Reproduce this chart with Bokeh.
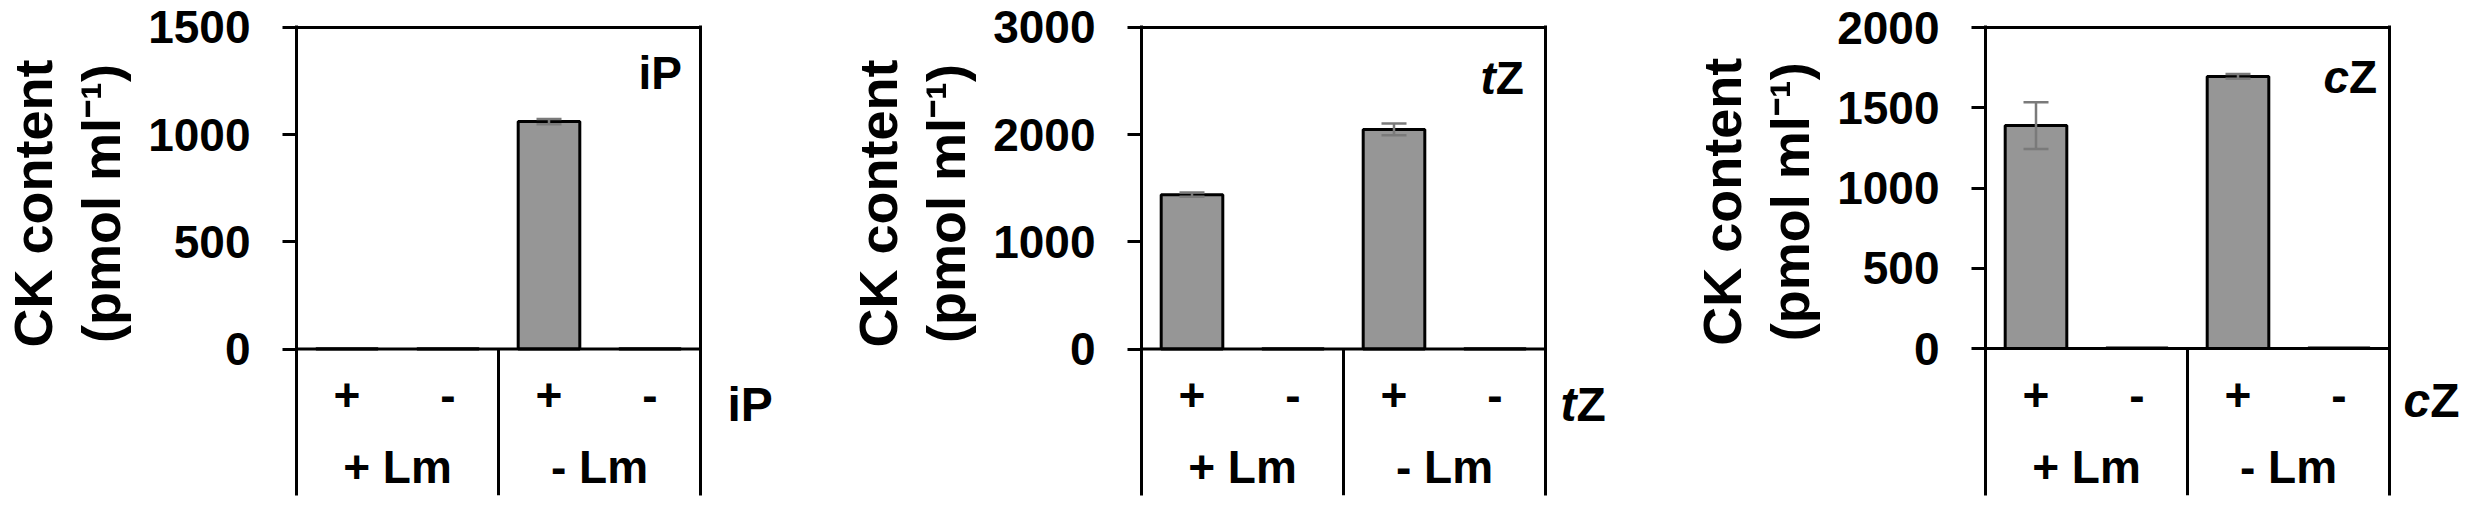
import math
from bokeh.plotting import figure
from bokeh.models import (FactorRange, Range1d, FixedTicker, Span, LinearAxis,
                          Whisker, TeeHead, ColumnDataSource)
from bokeh.layouts import row
from bokeh.core.properties import value
from bokeh.embed import file_html
from bokeh.resources import INLINE

# ---------------- data ----------------
groups = ["+ Lm", "- Lm"]
treatments = ["+", "-"]
compounds = ["iP", "tZ", "cZ"]
compound_italic = ["", "t", "c"]
compound_upright = ["iP", "Z", "Z"]

iP_mean = [2, 2, 1061, 2]
iP_err = [0, 0, 12, 0]
tZ_mean = [1440, 3, 2049, 3]
tZ_err = [20, 0, 55, 0]
cZ_mean = [1389, 3, 1695, 3]
cZ_err = [146, 0, 15, 0]

means = [iP_mean, tZ_mean, cZ_mean]
errs = [iP_err, tZ_err, cZ_err]
y_max = [1500, 3000, 2000]
y_ticks = [[0, 500, 1000, 1500], [0, 1000, 2000, 3000], [0, 500, 1000, 1500, 2000]]
y_label_1 = "CK content"
y_label_2 = "(pmol ml\u207b\u00b9)"

# ---------------- layout (pixels) ----------------
H = 508
FRAME_TOP = 27                    # page y of the top line
FRAME_W = 404
left_fig_w = [140, 140, 140]
main_left = [156, 159, 165]
main_right = 6
right_fig_w = [136, 129, 71]
zero_px = [325, 325, 321]         # top line -> zero line
below_px = [148, 148, 147]        # zero line -> bottom of table
inner_left_dx = [62, 65, 66]      # inner label left edge, left of right border
inner_dy = [56, 61, 60]           # inner label baseline, below top line
outer_dx = [27, 15, 14]           # right label left edge, from right border
outer_dy = 68                     # right label baseline, below zero line
row1_dy, row2_dy = 57, 129        # table rows baselines, below zero line
ylab_dx = [-264, -196]            # y-label anchor relative to axis
ylab_size = [54, 54]
FIX = 0.22                        # baseline compensation (fraction of font size)
ADV = {"t": 0.333, "c": 0.556}    # advance widths (em) of the italic prefixes

FONT = value("Liberation Sans")
BAR_FILL = "#969696"
ERR_COLOR = "#7a7a7a"

factors = [(g, t) for g in groups for t in treatments]
n_cat = len(factors)


def blank_fig(w):
    f = figure(width=w, height=H, title=None, toolbar_location=None, tools="",
               output_backend="svg", x_axis_location=None, y_axis_location=None,
               x_range=Range1d(0, w), y_range=Range1d(0, H),
               min_border=0)
    f.outline_line_color = None
    f.grid.visible = False
    f.background_fill_color = "white"
    f.border_fill_color = "white"
    return f


def compound_parts(i):
    parts = []
    if compound_italic[i]:
        parts.append((compound_italic[i], "bold italic"))
    parts.append((compound_upright[i], "bold"))
    return parts


def make_left(i):
    f = blank_fig(left_fig_w[i])
    axis_x = left_fig_w[i] + main_left[i]
    yc = FRAME_TOP + zero_px[i] / 2 + 3
    for txt, dx, fs in zip([y_label_1, y_label_2], ylab_dx, ylab_size):
        f.text(x=[axis_x + dx], y=[H - yc], text=[txt], angle=math.pi / 2,
               text_align="center", text_baseline="alphabetic", text_font=FONT,
               text_font_style="bold", text_font_size=f"{fs}px", text_color="black")
    return f


def make_right(i):
    f = blank_fig(right_fig_w[i])
    x = outer_dx[i] - main_right
    yb = H - (FRAME_TOP + zero_px[i] + outer_dy - FIX * 48)
    for txt, style in compound_parts(i):
        f.text(x=[x], y=[yb], text=[txt], text_align="left", text_baseline="alphabetic",
               text_font=FONT, text_font_style=style, text_font_size="48px",
               text_color="black")
        x += ADV.get(txt, 0) * 48
    return f


def make_main(i):
    ymax = y_max[i]
    per_px = ymax / zero_px[i]
    ystart = -below_px[i] * per_px
    eps = 2
    fig_w = main_left[i] + FRAME_W + main_right

    def sx(px):
        return px * n_cat / FRAME_W

    def sy(px_below_zero):
        return -px_below_zero * per_px

    p = figure(
        width=fig_w, height=H, title=None, toolbar_location=None, tools="",
        output_backend="svg", x_axis_location=None,
        x_range=FactorRange(factors=factors, range_padding=0, group_padding=0,
                            factor_padding=0, subgroup_padding=0),
        y_range=Range1d(ystart, ymax + eps * per_px),
        min_border_left=main_left[i], min_border_right=main_right,
        min_border_top=FRAME_TOP - eps,
        min_border_bottom=H - (FRAME_TOP + zero_px[i] + below_px[i]),
    )
    p.outline_line_color = None
    p.background_fill_color = "white"
    p.border_fill_color = "white"
    p.grid.visible = False

    ax = p.yaxis[0]
    ax.ticker = FixedTicker(ticks=y_ticks[i])
    ax.axis_line_width = 3
    ax.axis_line_color = "black"
    ax.major_tick_line_width = 3
    ax.major_tick_line_color = "black"
    ax.major_tick_out = 14
    ax.major_tick_in = 0
    ax.minor_tick_line_color = None
    ax.major_label_standoff = 32
    ax.major_label_text_font = "Liberation Sans"
    ax.major_label_text_font_style = "bold"
    ax.major_label_text_font_size = "46px"
    ax.major_label_text_color = "black"

    # right border = right axis line
    rax = LinearAxis(ticker=FixedTicker(ticks=[]), axis_line_width=3, axis_line_color="black",
                     major_tick_line_color=None, minor_tick_line_color=None,
                     major_tick_out=0, major_tick_in=0, major_label_standoff=0,
                     major_label_text_font_size="0px")
    p.add_layout(rax, "right")

    src = ColumnDataSource(dict(x=factors, top=means[i]))
    p.vbar(x="x", top="top", width=0.61, source=src, fill_color=BAR_FILL,
           line_color="black", line_width=3)

    ex, up, lo = [], [], []
    for fct, m, e in zip(factors, means[i], errs[i]):
        if e > 0:
            ex.append(fct)
            up.append(m + e)
            lo.append(m - e)
    esrc = ColumnDataSource(dict(x=ex, upper=up, lower=lo))
    w = Whisker(source=esrc, base="x", upper="upper", lower="lower",
                line_color=ERR_COLOR, line_width=2.5, level="overlay",
                upper_head=TeeHead(size=25, line_color=ERR_COLOR, line_width=2.5),
                lower_head=TeeHead(size=25, line_color=ERR_COLOR, line_width=2.5))
    p.add_layout(w)

    # top line and zero line
    p.add_layout(Span(location=ymax, dimension="width", line_color="black", line_width=3))
    p.add_layout(Span(location=0, dimension="width", line_color="black", line_width=3))
    # divider between the groups in the category table
    bounds = [len(treatments) * (k + 1) for k in range(len(groups) - 1)]
    p.segment(x0=bounds, x1=bounds, y0=[ystart] * len(bounds), y1=[0] * len(bounds),
              line_color="black", line_width=3)

    # category table text
    p.text(x=factors, y=[sy(row1_dy - FIX * 46)] * n_cat, text=treatments * len(groups),
           text_align="center", text_baseline="alphabetic", text_font=FONT,
           text_font_style="bold", text_font_size="46px", text_color="black")
    p.text(x=groups, y=[sy(row2_dy - FIX * 46)] * len(groups), text=groups,
           text_align="center", text_baseline="alphabetic", text_font=FONT,
           text_font_style="bold", text_font_size="46px", text_color="black")

    # inner compound label (top right of frame), laid out left to right
    x = FRAME_W - inner_left_dx[i]
    yb = ymax - (inner_dy[i] - FIX * 46) * per_px
    for txt, style in compound_parts(i):
        p.text(x=[sx(x)], y=[yb], text=[txt], text_align="left",
               text_baseline="alphabetic", text_font=FONT, text_font_style=style,
               text_font_size="46px", text_color="black")
        x += ADV.get(txt, 0) * 46
    return p


figs = []
for i in range(len(compounds)):
    figs += [make_left(i), make_main(i), make_right(i)]
layout = row(*figs, spacing=0)
open("out.html", "w").write(file_html(layout, INLINE))
